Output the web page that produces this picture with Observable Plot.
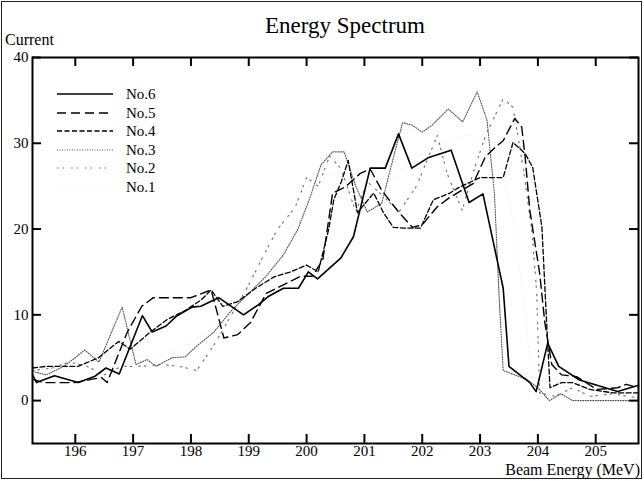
<!DOCTYPE html>
<html>
<head>
<meta charset="utf-8">
<script src="https://cdn.jsdelivr.net/npm/d3@7"></script>
<script src="https://cdn.jsdelivr.net/npm/@observablehq/plot@0.6"></script>
<style>
  html, body { margin: 0; padding: 0; background: #fff; }
  #wrap { position: relative; width: 644px; height: 481px; overflow: hidden; background: #fff; }
  #border { position: absolute; left: 1px; top: 1px; width: 639px; height: 476px; border: 1.5px solid #222; }
  #chart { position: absolute; left: 0; top: 0; }
  #overlay { position: absolute; left: 0; top: 0; pointer-events: none; }
</style>
</head>
<body>
<div id="wrap">
  <div id="border"></div>
  <div id="chart"></div>
  <svg id="overlay" width="644" height="481" font-family="'Liberation Serif', 'Times New Roman', serif"></svg>
</div>
<script>
// ---- Data ----
const xTicks = [196, 197, 198, 199, 200, 201, 202, 203, 204, 205];
const yTicks = [0, 10, 20, 30, 40];
const xDomain = [195.26, 205.74];
const yDomain = [-5, 40];
const seriesNames = ["No.6", "No.5", "No.4", "No.3", "No.2", "No.1"];

const no6E = [195.26,195.33,195.64,196.05,196.33,196.53,196.76,197.16,197.33,197.57,197.74,198.02,198.17,198.48,198.91,199.17,199.33,199.6,199.86,200.03,200.19,200.59,200.81,201.1,201.36,201.59,201.82,202.1,202.5,202.81,203.05,203.4,203.5,203.86,203.97,204.17,204.36,204.72,205.38,205.74];
const no6C = [3.0,2.1,2.9,2.1,2.8,3.8,3.1,9.9,8.0,8.7,9.8,10.9,11.0,12.0,10.0,11.2,12.1,13.1,13.1,15.0,14.2,16.6,19.1,27.1,27.1,31.1,27.1,28.3,29.2,23.1,24.1,13.1,4.0,2.1,1.05,6.7,4.0,2.4,1.05,1.8];

const no5E = [195.26,195.45,196.0,196.3,196.45,196.55,196.9,197.15,197.35,198.0,198.35,198.57,198.81,199.03,199.3,199.6,199.9,200.1,200.28,200.45,200.67,200.93,201.1,201.3,201.59,201.83,202.0,202.26,202.48,202.88,203.09,203.26,203.4,203.6,203.72,203.78,203.86,204.03,204.12,204.24,204.41,204.67,205.02,205.38,205.53,205.74];
const no5C = [2.5,2.1,2.1,2.5,2.7,2.1,8.0,11.0,12.0,12.0,12.9,7.3,7.7,9.1,12.5,13.5,14.5,14.5,16.4,24.2,24.9,26.5,27.0,24.5,22.0,20.2,20.5,22.6,23.7,25.3,28.4,29.5,30.3,32.9,31.9,28.4,22.2,14.9,9.1,4.2,3.0,2.8,1.3,1.5,1.9,1.5];

const no4E = [195.26,195.5,196.05,196.4,196.75,196.95,197.3,197.6,197.9,198.17,198.35,198.55,198.8,199.12,199.43,199.72,200.0,200.2,200.38,200.47,200.6,200.72,200.88,201.16,201.33,201.5,201.74,201.97,202.19,202.48,202.62,203.0,203.4,203.57,203.78,203.91,204.07,204.16,204.21,204.41,204.6,204.9,205.3,205.74];
const no4C = [3.8,4.0,4.0,5.0,6.9,6.0,8.0,9.5,10.5,11.7,12.9,11.0,11.5,13.1,14.4,15.0,15.8,15.0,19.9,23.4,25.5,28.0,21.9,24.2,21.9,20.2,20.1,20.1,23.4,24.2,24.8,26.0,26.0,30.1,28.8,27.2,20.2,7.9,1.5,2.1,2.1,1.3,0.9,0.9];

const no3E = [195.26,195.5,195.8,196.0,196.16,196.41,196.81,197.05,197.24,197.4,197.67,197.9,198.09,198.4,198.7,199.0,199.3,199.6,199.85,200.05,200.25,200.45,200.65,200.85,201.05,201.3,201.45,201.66,201.83,202.0,202.17,202.45,202.7,202.95,203.12,203.25,203.33,203.4,203.6,203.8,204.0,204.2,204.4,204.6,205.0,205.74];
const no3C = [3.4,3.0,4.0,5.0,5.9,4.5,10.9,4.2,4.8,4.0,5.0,5.1,6.3,8.0,10.5,12.5,14.5,17.0,20.0,23.5,27.5,29.0,29.0,25.0,22.0,23.0,27.0,32.4,32.1,31.3,32.1,34.0,32.5,36.0,32.7,24.0,12.0,3.5,3.0,2.5,1.5,0.0,0.8,0.0,0.0,0.0];

const no2E = [195.26,195.6,195.9,196.2,196.5,196.8,197.1,197.5,197.8,198.1,198.4,198.7,199.0,199.3,199.5,199.8,200.0,200.2,200.4,200.6,200.85,201.05,201.3,201.6,201.9,202.26,202.43,202.69,202.9,203.1,203.4,203.57,203.75,203.9,203.98,204.03,204.3,204.6,204.9,205.3,205.74];
const no2C = [3.5,3.8,4.5,4.0,3.0,4.0,4.0,4.2,4.0,3.5,6.5,10.0,13.5,17.5,20.0,22.5,26.0,25.0,28.5,27.0,22.0,25.5,24.0,22.0,25.0,30.9,26.5,22.2,27.0,31.0,35.2,34.2,27.0,19.5,12.6,0.9,0.5,1.5,0.5,0.8,0.3];

const no1E = [195.26,195.8,196.3,196.8,197.3,197.8,198.3,198.8,199.3,199.8,200.3,200.8,201.3,201.8,202.3,202.8,203.3,203.6,203.9,204.3,204.8,205.3,205.74];
const no1C = [3.0,3.5,4.5,5.5,5.0,6.0,8.0,12.0,16.0,21.0,26.0,27.0,25.0,28.0,30.0,31.0,30.0,20.0,3.0,1.0,0.5,0.5,0.5];

// ---- Styles per series ----
const styles = {
  "No.6": {stroke: "#000", strokeWidth: 1.6, dash: null},
  "No.5": {stroke: "#000", strokeWidth: 1.4, dash: "9,5"},
  "No.4": {stroke: "#000", strokeWidth: 1.3, dash: "5,2.5"},
  "No.3": {stroke: "#555", strokeWidth: 1.1, dash: "1,1.5"},
  "No.2": {stroke: "#777", strokeWidth: 1.2, dash: "1.5,4,1.5,7"},
  "No.1": {stroke: "#f0f0f0", strokeWidth: 1, dash: "1,3"}
};

const seriesData = {
  "No.6": [no6E, no6C], "No.5": [no5E, no5C], "No.4": [no4E, no4C],
  "No.3": [no3E, no3C], "No.2": [no2E, no2C], "No.1": [no1E, no1C]
};

function rowsOf(name) {
  const [E, C] = seriesData[name];
  return E.map((e, i) => ({series: name, energy: e, current: C[i]}));
}

const W = 644, H = 481;
const mL = 32, mR = 6, mT = 57, mB = 38;
const tickLen = 9;
// tick lengths converted from pixels into data units of each axis
const tickUnitsY = tickLen * (yDomain[1] - yDomain[0]) / (H - mT - mB);
const tickUnitsX = tickLen * (xDomain[1] - xDomain[0]) / (W - mL - mR);

const lineMarks = seriesNames.slice().reverse().map(name => {
  const s = styles[name];
  const opts = {x: "energy", y: "current", stroke: s.stroke, strokeWidth: s.strokeWidth};
  if (s.dash) opts.strokeDasharray = s.dash;
  return Plot.line(rowsOf(name), opts);
});

const tickStyle = {stroke: "#000", strokeWidth: 2};

const chart = Plot.plot({
  width: W, height: H,
  marginLeft: mL, marginRight: mR, marginTop: mT, marginBottom: mB,
  style: {fontFamily: "'Liberation Serif', 'Times New Roman', serif", fontSize: "15px", background: "transparent", color: "#000"},
  x: {domain: xDomain, label: null},
  y: {domain: yDomain, label: null},
  marks: [
    ...lineMarks,
    Plot.ruleX(xTicks, {x: d => d, y1: yDomain[0], y2: yDomain[0] + tickUnitsY, ...tickStyle}),
    Plot.ruleX(xTicks, {x: d => d, y1: yDomain[1] - tickUnitsY, y2: yDomain[1], ...tickStyle}),
    Plot.ruleY(yTicks, {y: d => d, x1: xDomain[0], x2: xDomain[0] + tickUnitsX, ...tickStyle}),
    Plot.ruleY(yTicks, {y: d => d, x1: xDomain[1] - tickUnitsX, x2: xDomain[1], ...tickStyle}),
    Plot.axisX(xTicks, {anchor: "bottom", tickSize: 0, tickPadding: 2, tickFormat: d => String(d), label: null}),
    Plot.axisY(yTicks, {anchor: "left", tickSize: 0, tickPadding: 4, tickFormat: d => String(d), label: null}),
    Plot.frame({stroke: "#000", strokeWidth: 2})
  ]
});
document.getElementById("chart").appendChild(chart);

// ---- Title, axis captions, legend ----
const ov = d3.select("#overlay");
ov.append("text").attr("x", 345).attr("y", 33).attr("text-anchor", "middle")
  .attr("font-size", 23).text("Energy Spectrum");
ov.append("text").attr("x", 5).attr("y", 45).attr("font-size", 16).text("Current");
ov.append("text").attr("x", 640).attr("y", 475).attr("text-anchor", "end")
  .attr("font-size", 16).text("Beam Energy (MeV)");

const legY = [94, 113, 131, 150, 168, 187];
seriesNames.forEach((name, i) => {
  const s = styles[name];
  const ln = ov.append("line").attr("x1", 57).attr("x2", 113).attr("y1", legY[i]).attr("y2", legY[i])
    .attr("stroke", s.stroke).attr("stroke-width", s.strokeWidth);
  if (s.dash) ln.attr("stroke-dasharray", s.dash);
  ov.append("text").attr("x", 126).attr("y", legY[i]).attr("dy", "0.35em")
    .attr("font-size", 15).text(name);
});
</script>
</body>
</html>
